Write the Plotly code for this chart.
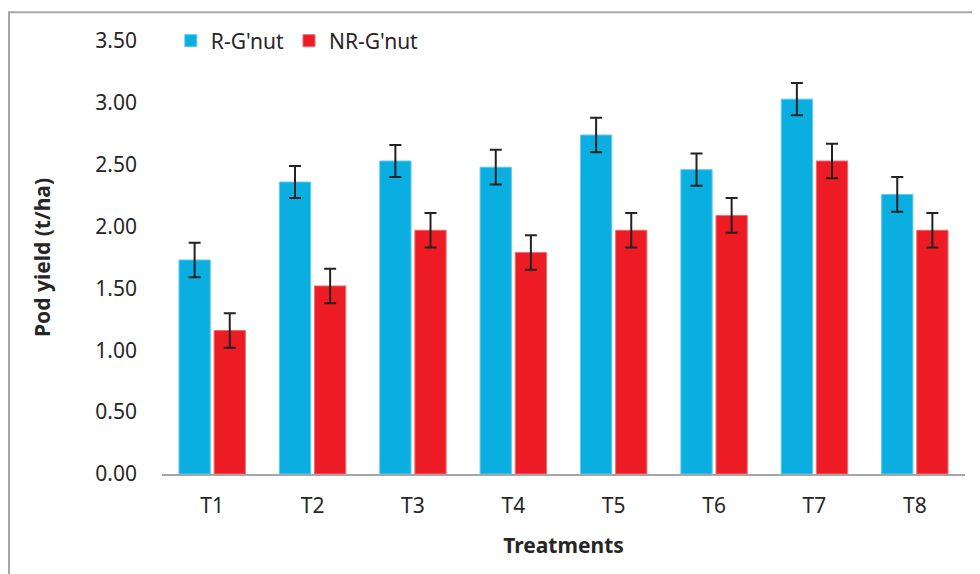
import plotly.graph_objects as go

categories = ["T1", "T2", "T3", "T4", "T5", "T6", "T7", "T8"]
r_gnut = [1.73, 2.36, 2.53, 2.48, 2.74, 2.46, 3.03, 2.26]
r_err = [0.14, 0.13, 0.13, 0.14, 0.14, 0.13, 0.13, 0.14]
nr_gnut = [1.16, 1.52, 1.97, 1.79, 1.97, 2.09, 2.53, 1.97]
nr_err = [0.14, 0.14, 0.14, 0.14, 0.14, 0.14, 0.14, 0.14]
y_ticks = [0, 0.5, 1.0, 1.5, 2.0, 2.5, 3.0, 3.5]
y_ticklabels = ["0.00", "0.50", "1.00", "1.50", "2.00", "2.50", "3.00", "3.50"]

FONT = "Noto Sans"
TXT = "#262626"
err_style = dict(type="data", visible=True, color="#222222", thickness=2, width=6)

fig = go.Figure()
fig.add_trace(go.Bar(
    name="R-G'nut", x=categories, y=r_gnut,
    error_y=dict(array=r_err, **err_style),
    marker=dict(color="#0AAEE0", line=dict(color="#5CCBEF", width=1)),
))
fig.add_trace(go.Bar(
    name="NR-G'nut", x=categories, y=nr_gnut,
    error_y=dict(array=nr_err, **err_style),
    marker=dict(color="#ED1C24", line=dict(color="#F26A70", width=1)),
))

# page body has an 8px margin, so figure coords = screen coords - 8
L, R, T, B = 154, 23, 30, 108
W, H = 980, 574
pw, ph = W - L - R, H - T - B

fig.update_layout(
    width=W, height=H,
    margin=dict(l=L, r=R, t=T, b=B),
    paper_bgcolor="white", plot_bgcolor="white",
    barmode="group", bargap=0.3, bargroupgap=0.11,
    font=dict(family=FONT, size=21, color=TXT),
    legend=dict(orientation="h", x=0.011, y=1.0, xanchor="left", yanchor="middle",
                font=dict(family=FONT, size=21, color=TXT),
                itemwidth=30, bgcolor="rgba(0,0,0,0)", traceorder="normal"),
    xaxis=dict(showgrid=False, showline=True, linecolor="#A6A6A6", linewidth=2,
               ticks="", tickfont=dict(size=21, color=TXT), ticklabelstandoff=12,
               title=dict(text="<b>Treatments</b>", font=dict(size=21, color=TXT), standoff=20)),
    yaxis=dict(range=[0, 3.5], tickvals=y_ticks, ticktext=y_ticklabels,
               showgrid=False, showline=False, zeroline=False, ticks="",
               tickfont=dict(size=21, color=TXT), ticklabelstandoff=24,
               title=dict(text="<b>Pod yield (t/ha)</b>", font=dict(size=21, color=TXT), standoff=38)),
    shapes=[
        dict(type="line", xref="paper", yref="paper",
             x0=(0 - L) / pw, x1=(W + 10 - L) / pw,
             y0=(H - B - 1) / ph, y1=(H - B - 1) / ph,
             line=dict(color="#A6A6A6", width=2)),
        dict(type="line", xref="paper", yref="paper",
             x0=(1 - L) / pw, x1=(1 - L) / pw,
             y0=(H - B - 1) / ph, y1=-(B + 10) / ph,
             line=dict(color="#A6A6A6", width=2)),
    ],
)

fig.write_html("out.html")
